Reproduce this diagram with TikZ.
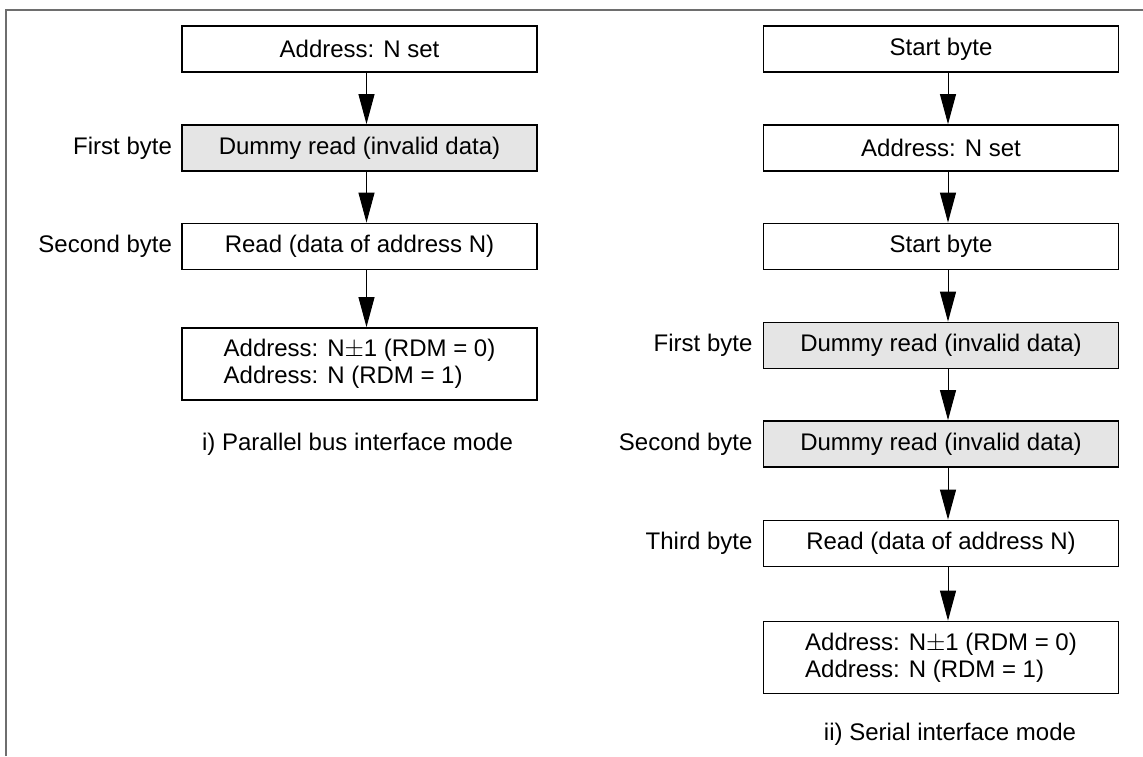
\documentclass[tikz,border=0pt]{standalone}
\usepackage{fontspec}
\setmainfont{Liberation Sans}
\usetikzlibrary{arrows.meta}
\definecolor{boxgray}{RGB}{229,229,229}
\definecolor{framegray}{RGB}{110,110,110}
\tikzset{
  flowbox/.style={draw, line width=1.8pt, rectangle, inner sep=0pt,
    minimum width=355pt, minimum height=46pt, font=\fontsize{24}{27}\selectfont, fill=white},
  grayfill/.style={fill=boxgray},
  twoline/.style={minimum height=72pt, align=left},
  sidelabel/.style={anchor=east, inner sep=0pt, font=\fontsize{24}{27}\selectfont},
  caption/.style={anchor=base, inner sep=0pt, font=\fontsize{24}{27}\selectfont},
  flowarrow/.style={line width=1pt, -{Triangle[length=30pt,width=16pt]}},
  framestyle/.style={line width=2pt, draw=framegray}
}
\begin{document}
\begin{tikzpicture}[x=1pt, y=-1pt]
\useasboundingbox (0,0) rectangle (1143,756);
\fill[white] (0,0) rectangle (1143,756);
% frame
\coordinate (fbl) at (5.5,756);
\coordinate (ftl) at (5.5,9.5);
\coordinate (ftr) at (1143,9.5);
\draw[framestyle] (fbl) -- (ftl) -- (ftr);

% left column: parallel
\node[flowbox] (a1) at (359.5,49) {Address: N set};
\node[flowbox, grayfill] (a2) at (359.5,148) {Dummy read (invalid data)};
\node[flowbox] (a3) at (359.5,246.5) {Read (data of address N)};
\node[flowbox, twoline] (a4) at (359.5,364) {Address: N$\pm$1 (RDM = 0)\\Address: N (RDM = 1)};
\node[sidelabel] (la2) at ([xshift=-9pt]a2.west) {First byte};
\node[sidelabel] (la3) at ([xshift=-9pt]a3.west) {Second byte};
\node[caption] (ca) at (357.5,450) {i) Parallel bus interface mode};
\draw[flowarrow] ([xshift=7pt]a1.south) -- ([xshift=7pt]a2.north);
\draw[flowarrow] ([xshift=7pt]a2.south) -- ([xshift=7pt]a3.north);
\draw[flowarrow] ([xshift=7pt]a3.south) -- ([xshift=7pt]a4.north);

% right column: serial
\node[flowbox] (b1) at (941,49) {Start byte};
\node[flowbox] (b2) at (941,148) {Address: N set};
\node[flowbox] (b3) at (941,246.5) {Start byte};
\node[flowbox, grayfill] (b4) at (941,345.5) {Dummy read (invalid data)};
\node[flowbox, grayfill] (b5) at (941,444) {Dummy read (invalid data)};
\node[flowbox] (b6) at (941,543.5) {Read (data of address N)};
\node[flowbox, twoline] (b7) at (941,657.5) {Address: N$\pm$1 (RDM = 0)\\Address: N (RDM = 1)};
\node[sidelabel] (lb4) at ([xshift=-10pt]b4.west) {First byte};
\node[sidelabel] (lb5) at ([xshift=-10pt]b5.west) {Second byte};
\node[sidelabel] (lb6) at ([xshift=-10pt]b6.west) {Third byte};
\node[caption] (cb) at (950,740) {ii) Serial interface mode};
\draw[flowarrow] ([xshift=7pt]b1.south) -- ([xshift=7pt]b2.north);
\draw[flowarrow] ([xshift=7pt]b2.south) -- ([xshift=7pt]b3.north);
\draw[flowarrow] ([xshift=7pt]b3.south) -- ([xshift=7pt]b4.north);
\draw[flowarrow] ([xshift=7pt]b4.south) -- ([xshift=7pt]b5.north);
\draw[flowarrow] ([xshift=7pt]b5.south) -- ([xshift=7pt]b6.north);
\draw[flowarrow] ([xshift=7pt]b6.south) -- ([xshift=7pt]b7.north);
\end{tikzpicture}
\end{document}
